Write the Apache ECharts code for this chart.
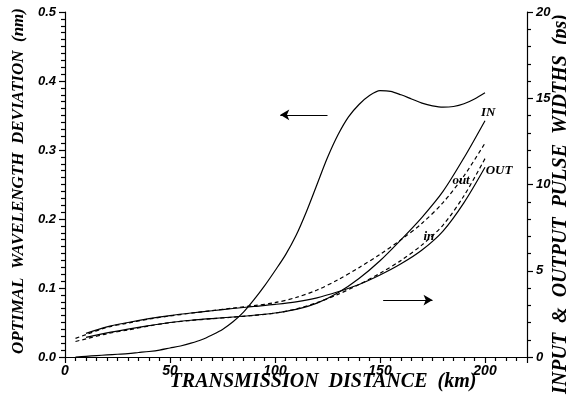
<!DOCTYPE html>
<html>
<head>
<meta charset="utf-8">
<script src="https://cdn.jsdelivr.net/npm/echarts@6/dist/echarts.min.js"></script>
<style>
  html, body { margin: 0; padding: 0; background: #fff; }
  #chart { width: 566px; height: 399px; }
</style>
</head>
<body>
<div id="chart"></div>
<script>
// Transmission distance (km) for the wavelength-deviation curve
const kmWave = [5, 10, 15, 20, 25, 30, 35, 40, 45, 50, 55, 60, 65, 70, 75, 80, 85, 90, 95, 100, 105,
  110, 115, 120, 125, 130, 135, 140, 145, 150, 155, 160, 165, 170, 175, 180, 185, 190, 195, 200];
// Optimal wavelength deviation (nm), left axis
const waveDev = [0.0, 0.001, 0.002, 0.003, 0.004, 0.005, 0.0065, 0.008, 0.010, 0.013, 0.016, 0.020,
  0.025, 0.032, 0.040, 0.051, 0.065, 0.083, 0.103, 0.125, 0.148, 0.176, 0.211, 0.250, 0.289, 0.322,
  0.348, 0.366, 0.379, 0.386, 0.385, 0.380, 0.374, 0.368, 0.364, 0.362, 0.363, 0.367, 0.374, 0.383];

// Transmission distance (km) for the pulse-width curves
const kmPulse = [5, 10, 20, 30, 40, 50, 60, 70, 80, 90, 100, 110, 120, 130, 140, 150, 160, 170, 180, 190, 200];
// Pulse widths (ps), right axis
const inSolid  = [null, 1.14, 1.4, 1.62, 1.82, 2.0, 2.13, 2.23, 2.32, 2.42, 2.55, 2.76, 3.12, 3.72, 4.55, 5.58, 6.8, 8.1, 9.6, 11.55, 13.7];
const inDash   = [0.9, 1.05, 1.35, 1.57, 1.8, 1.99, 2.12, 2.22, 2.31, 2.41, 2.54, 2.78, 3.15, 3.63, 4.2, 4.85, 5.6, 6.5, 7.65, 9.35, 11.5];
const outDash  = [1.08, 1.3, 1.72, 1.97, 2.2, 2.38, 2.54, 2.69, 2.84, 2.98, 3.15, 3.45, 3.88, 4.48, 5.18, 5.95, 6.8, 7.75, 8.95, 10.5, 12.4];
const outSolid = [null, 1.37, 1.75, 2.0, 2.22, 2.4, 2.55, 2.68, 2.81, 2.93, 3.05, 3.2, 3.43, 3.78, 4.2, 4.75, 5.4, 6.2, 7.3, 8.95, 11.0];

// Tick labels
const xTicks = [0, 50, 100, 150, 200];
const leftTicks = ['0.0', '0.1', '0.2', '0.3', '0.4', '0.5'];
const rightTicks = ['0', '5', '10', '15', '20'];

const INK = '#000';
const labelFont = { fontFamily: 'Liberation Sans', fontWeight: 'bold', fontStyle: 'italic', color: INK };

const pair = (xs, ys) => xs.map((x, i) => [x, ys[i]]);

const lineSeries = (name, xs, ys, yIdx, dashed, extra) => Object.assign({
  name, type: 'line', xAxisIndex: 0, yAxisIndex: yIdx,
  data: pair(xs, ys), showSymbol: false, smooth: 0.3, connectNulls: false,
  lineStyle: { color: INK, width: 1.2, type: dashed ? [4, 3] : 'solid' },
  emphasis: { disabled: true }, silent: true, z: 3
}, extra || {});

const tag = (text, coord) => ({
  coord, value: text, symbol: 'circle', symbolSize: 0,
  label: { show: true, position: 'inside', formatter: text,
    fontFamily: 'Liberation Serif', fontWeight: 'bold', fontStyle: 'italic',
    fontSize: 13, color: INK }
});

const arrow = (from, to) => [{ coord: from }, { coord: to }];

const tickStyle = { color: INK, width: 1.2 };

// Axis with outward major and minor ticks
const axis = (extra, minorSplit, labelOpts) => Object.assign({
  type: 'value', offset: 0,
  axisLine: { show: true, onZero: false, lineStyle: { color: INK, width: 1.2 } },
  axisTick: { show: true, inside: false, length: 6, lineStyle: tickStyle },
  minorTick: { show: true, splitNumber: minorSplit, length: 4, lineStyle: tickStyle },
  splitLine: { show: false },
  minorSplitLine: { show: false },
  axisLabel: Object.assign({}, labelFont, labelOpts)
}, extra);

const chart = echarts.init(document.getElementById('chart'), null, { renderer: 'canvas' });

chart.setOption({
  animation: false,
  backgroundColor: '#fff',
  grid: { left: 65, right: 39, top: 12, bottom: 42, containLabel: false },
  xAxis: axis({ min: 0, max: 220, interval: 50, position: 'bottom' }, 10,
    { fontSize: 14, margin: 7, formatter: v => (xTicks.indexOf(v) >= 0 ? String(v) : '') }),
  yAxis: [
    axis({ min: 0, max: 0.5, interval: 0.1, position: 'left' }, 10,
      { fontSize: 13, margin: 9, formatter: v => leftTicks[Math.round(v * 10)] }),
    axis({ min: 0, max: 20, interval: 5, position: 'right' }, 5,
      { fontSize: 13, margin: 9, formatter: v => rightTicks[Math.round(v / 5)] })
  ],
  series: [
    lineSeries('wavelength deviation', kmWave, waveDev, 0, false, {
      markLine: {
        silent: true, symbol: ['none', 'arrow'], symbolSize: [8, 9],
        label: { show: false },
        lineStyle: { color: INK, width: 1.2, type: 'solid' },
        data: [arrow([125, 0.351], [102.5, 0.351])]
      }
    }),
    lineSeries('IN', kmPulse, inSolid, 1, false, {
      markPoint: { silent: true, data: [tag('IN', [201.5, 14.15])] }
    }),
    lineSeries('in', kmPulse, inDash, 1, true, {
      markPoint: { silent: true, data: [tag('in', [173.3, 6.96])] }
    }),
    lineSeries('out', kmPulse, outDash, 1, true, {
      markPoint: { silent: true, data: [tag('out', [188.6, 10.2])] }
    }),
    lineSeries('OUT', kmPulse, outSolid, 1, false, {
      markPoint: { silent: true, data: [tag('OUT', [206.7, 10.8])] },
      markLine: {
        silent: true, symbol: ['none', 'arrow'], symbolSize: [8, 9],
        label: { show: false },
        lineStyle: { color: INK, width: 1.2, type: 'solid' },
        data: [arrow([151.5, 3.3], [175, 3.3])]
      }
    })
  ],
  graphic: [
    {
      type: 'text', x: 323, y: 382,
      style: { text: 'TRANSMISSION  DISTANCE  (km)', font: 'italic bold 20px "Liberation Serif"',
        fill: INK, textAlign: 'center', textVerticalAlign: 'middle' }
    },
    {
      type: 'text', x: 19, y: 181, rotation: Math.PI / 2,
      style: { text: 'OPTIMAL  WAVELENGTH  DEVIATION  (nm)', font: 'italic bold 17px "Liberation Serif"',
        fill: INK, textAlign: 'center', textVerticalAlign: 'middle' }
    },
    {
      type: 'text', x: 561, y: 204, rotation: Math.PI / 2,
      style: { text: 'INPUT  &  OUTPUT  PULSE  WIDTHS  (ps)', font: 'italic bold 20px "Liberation Serif"',
        fill: INK, textAlign: 'center', textVerticalAlign: 'middle' }
    }
  ]
});
</script>
</body>
</html>
